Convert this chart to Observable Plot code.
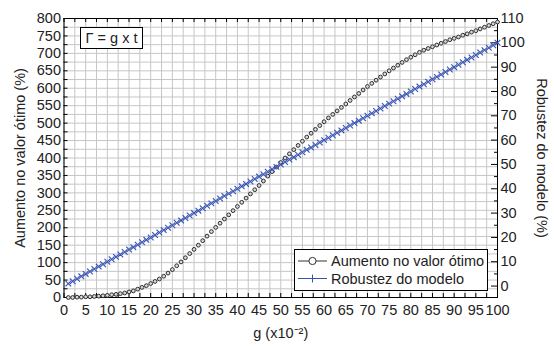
<!DOCTYPE html>
<html><head><meta charset="utf-8">
<script src="https://cdn.jsdelivr.net/npm/d3@7"></script>
<script src="https://cdn.jsdelivr.net/npm/@observablehq/plot@0.6"></script>
<style>
body{margin:0;background:#fff;}
#chart{width:554px;height:346px;}
</style></head><body><div id="chart"></div>
<script>
// g (x10^-2)
const g = [1,2,3,4,5,6,7,8,9,10,11,12,13,14,15,16,17,18,19,20,21,22,23,24,25,26,27,28,29,30,
  31,32,33,34,35,36,37,38,39,40,41,42,43,44,45,46,47,48,49,50,51,52,53,54,55,56,57,58,59,60,
  61,62,63,64,65,66,67,68,69,70,71,72,73,74,75,76,77,78,79,80,81,82,83,84,85,86,87,88,89,90,
  91,92,93,94,95,96,97,98,99,100];
// Aumento no valor ótimo (%) — left axis
const aumento = [0,0,1,1,2,2,3,4,5,6,8,9,11,13,16,19,24,29,34,40,46,53,61,70,80,91,102,114,126,138,
  150,163,176,189,201,213,225,237,249,261,273,285,297,309,321,334,348,361,374,387,400,412,424,436,448,460,471,482,493,504,
  515,525,535,545,555,565,575,585,595,605,614,623,632,641,650,658,666,674,682,689,696,703,709,714,719,724,729,734,739,743,
  747,752,756,761,765,770,775,780,785,790];
// Robustez do modelo (%) — right axis
const robustez = [1,2,3,4,5,6,7,8,9,10,11,12,13,14,15,16,17,18,19,20,21,22,23,24,25,26,27,28,29,30,
  31,32,33,34,35,36,37,38,39,40,41,42,43,44,45,46,47,48,49,50,51,52,53,54,55,56,57,58,59,60,
  61,62,63,64,65,66,67,68,69,70,71,72,73,74,75,76,77,78,79,80,81,82,83,84,85,86,87,88,89,90,
  91,92,93,94,95,96,97,98,99,100];

const xTicks = [0,5,10,15,20,25,30,35,40,45,50,55,60,65,70,75,80,85,90,95,100];
const leftTicks = [0,50,100,150,200,250,300,350,400,450,500,550,600,650,700,750,800];
const rightTicks = [0,10,20,30,40,50,60,70,80,90,100,110];
const seriesNames = ["Aumento no valor ótimo", "Robustez do modelo"];
const xTitle = "g (x10⁻²)";
const leftTitle = "Aumento no valor ótimo (%)";
const rightTitle = "Robustez do modelo (%)";
const annotation = "Γ = g x t";

const W = 554, H = 346;
const mL = 63.5, mR = 57, mT = 18, mB = 49;
const plotW = W - mL - mR, plotH = H - mT - mB;
const rightDomain = [-4.7, 110];
const toLeft = d3.scaleLinear().domain(rightDomain).range([0, 800]);

const circles = g.map((x, i) => ({x, y: aumento[i]}));
const crosses = g.map((x, i) => ({x, y: toLeft(robustez[i])}));

const xGrid = d3.range(0, 100.01, 2.5);
const yGrid = d3.range(0, 800.01, 25);
const rMinor = d3.range(0, 110.01, 5);

const blue = "#3652b4";
const gray = "#c6c6c6";
const FONT = "'Liberation Sans', Arial, sans-serif";
const FS = "14.5px";

const chart = Plot.plot({
  width: W, height: H,
  marginLeft: mL, marginRight: mR, marginTop: mT, marginBottom: mB,
  style: {fontFamily: FONT, fontSize: FS, color: "#222", background: "#fff"},
  x: {domain: [0, 100]},
  y: {domain: [0, 800]},
  marks: [
    Plot.ruleX(xGrid, {stroke: gray, strokeWidth: 1}),
    Plot.ruleY(yGrid, {stroke: gray, strokeWidth: 1}),
    // inward ticks
    Plot.tickY(yGrid, {y: d => d, insetRight: plotW - 4, stroke: "#000"}),
    Plot.tickX(xGrid, {x: d => d, insetTop: plotH - 4, stroke: "#000"}),
    Plot.tickX(xGrid, {x: d => d, insetBottom: plotH - 4, stroke: "#000"}),
    Plot.tickY(rMinor, {y: d => toLeft(d), stroke: "#000", filter: d => d % 10 === 0, insetLeft: plotW - 6}),
    Plot.tickY(rMinor, {y: d => toLeft(d), stroke: "#000", filter: d => d % 10 !== 0, insetLeft: plotW - 3}),
    Plot.frame({stroke: "#000"}),
    // data
    Plot.dot(circles, {x: "x", y: "y", r: 1.9, stroke: "#2e2e2e", strokeWidth: 1, fill: "#d8d8d8"}),
    Plot.dot(crosses, {x: "x", y: "y", symbol: "times", r: 2.7, stroke: blue, strokeWidth: 1.1}),
    // axes labels
    Plot.axisX(xTicks, {anchor: "bottom", tickSize: 0, tickPadding: 7, label: null}),
    Plot.axisY(leftTicks, {anchor: "left", tickSize: 0, tickPadding: 3, label: null}),
    Plot.axisY(rightTicks.map(d => toLeft(d)), {anchor: "right", tickSize: 0, tickPadding: 3, label: null,
      tickFormat: d => String(Math.round(toLeft.invert(d)))}),
    Plot.text([leftTitle], {frameAnchor: "left", textAnchor: "middle", rotate: -90, dx: -43.5, fill: "#222"}),
    Plot.text([rightTitle], {frameAnchor: "right", textAnchor: "middle", rotate: 90, dx: 44, fill: "#222"}),
    Plot.text([xTitle], {frameAnchor: "bottom", textAnchor: "middle", dy: 40, fill: "#222"})
  ]
});
document.getElementById("chart").appendChild(chart);

// annotation box and legend overlay
const svg = d3.select(chart);
const ov = svg.append("g").attr("font-family", FONT).attr("font-size", FS).attr("fill", "#222");
const ann = ov.append("g");
ann.append("rect").attr("x", 80.5).attr("y", 27.5).attr("width", 62).attr("height", 21).attr("fill", "#fff").attr("stroke", "#000");
ann.append("text").attr("x", 111.5).attr("y", 38).attr("dy", "0.35em").attr("text-anchor", "middle").text(annotation);

const leg = ov.append("g");
leg.append("rect").attr("x", 294.5).attr("y", 249.5).attr("width", 193).attr("height", 41).attr("fill", "#fff").attr("stroke", "#000");
const rows = [{y: 261, c: "#333", sym: "circle"}, {y: 278.5, c: blue, sym: "plus"}];
rows.forEach((r, i) => {
  leg.append("line").attr("x1", 298).attr("x2", 327).attr("y1", r.y).attr("y2", r.y).attr("stroke", r.c).attr("stroke-width", 1);
  if (r.sym === "circle") {
    leg.append("circle").attr("cx", 312.5).attr("cy", r.y).attr("r", 3.6).attr("fill", "#fff").attr("stroke", r.c).attr("stroke-width", 1);
  } else {
    leg.append("line").attr("x1", 312.5).attr("x2", 312.5).attr("y1", r.y - 4).attr("y2", r.y + 4).attr("stroke", r.c).attr("stroke-width", 1);
  }
  leg.append("text").attr("x", 331).attr("y", r.y).attr("dy", "0.35em").attr("text-anchor", "start").text(seriesNames[i]);
});
</script>
</body></html>
